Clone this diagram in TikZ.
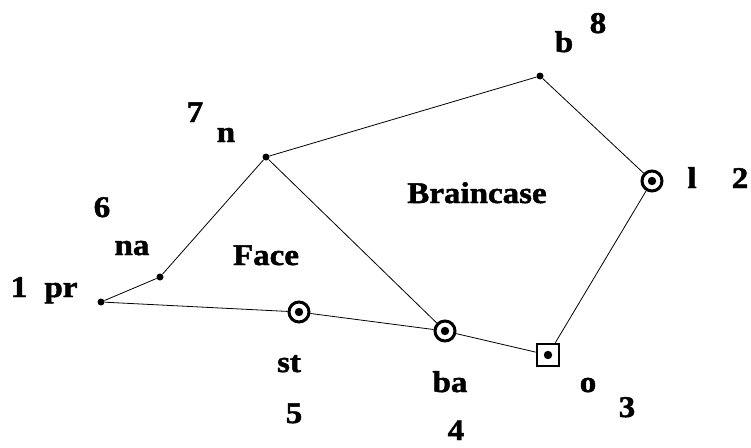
\documentclass[tikz,border=0pt]{standalone}
\usepackage{fontspec}
\setmainfont{Liberation Serif}[FakeStretch=1.1,BoldFeatures={FakeBold=1.6}]
\begin{document}
\begin{tikzpicture}[x=1pt,y=-1pt,
  lbl/.style={anchor=base,inner sep=0pt,font=\fontsize{30}{36}\selectfont\bfseries},
  pt/.style={circle,fill=black,minimum size=7pt,inner sep=0pt},
  ring/.style={circle,draw=black,line width=3pt,minimum size=20pt,inner sep=0pt,
    path picture={\fill (path picture bounding box.center) circle (4.2pt);}},
  sq/.style={rectangle,draw=black,line width=2.8pt,minimum size=22pt,inner sep=0pt,
    path picture={\fill (path picture bounding box.center) circle (4.2pt);}},
  edge/.style={line width=0.8pt}]
\useasboundingbox (0,0) rectangle (751,447);
\node[pt] (pr) at (101,302) {};
\node[pt] (na) at (160,277) {};
\node[pt] (n) at (266,157) {};
\node[pt] (b) at (540,76) {};
\node[ring] (l) at (652,181) {};
\node[sq] (o) at (548,355) {};
\node[ring] (ba) at (445,331) {};
\node[ring] (st) at (299,312) {};
\draw[edge] (pr) -- (na) -- (n) -- (b) -- (l) -- (o) -- (ba) -- (st) -- (pr);
\draw[edge] (n) -- (ba);
\node[lbl] (t8) at (598,33) {8};
\node[lbl] (tb) at (564,52) {b};
\node[lbl] (tl) at (692,188) {l};
\node[lbl] (t2) at (740,188) {2};
\node[lbl] (to) at (588,392) {o};
\node[lbl] (t3) at (627,417) {3};
\node[lbl] (tba) at (450,392) {ba};
\node[lbl] (t4) at (456,440) {4};
\node[lbl] (tst) at (289,372) {st};
\node[lbl] (t5) at (294,423) {5};
\node[lbl] (t6) at (102,217) {6};
\node[lbl] (tna) at (132,255) {na};
\node[lbl] (t1) at (19,297) {1};
\node[lbl] (tpr) at (61,297) {pr};
\node[lbl] (t7) at (195,122) {7};
\node[lbl] (tn) at (226,142) {n};
\node[lbl] (tbr) at (477,203) {Braincase};
\node[lbl] (tf) at (266,265) {Face};
\end{tikzpicture}
\end{document}
